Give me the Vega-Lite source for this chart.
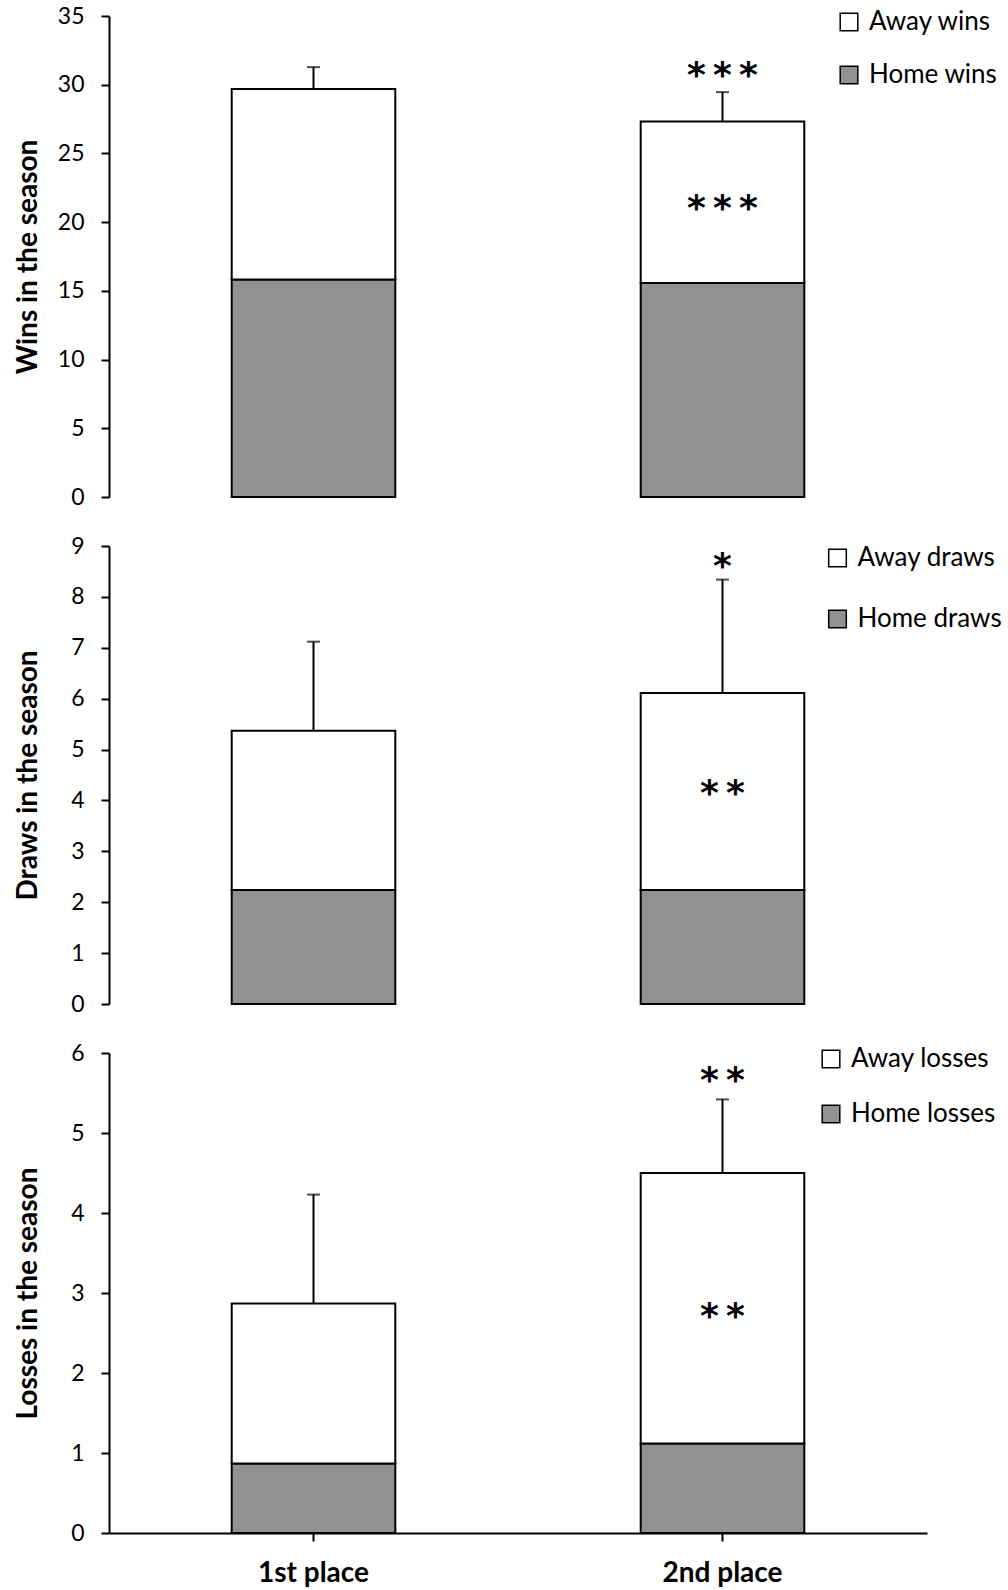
{
  "$schema": "https://vega.github.io/schema/vega-lite/v6.json",
  "background": "white",
  "padding": {"left": 14, "top": 5, "right": 5, "bottom": 5},
  "bounds": "flush",
  "spacing": 49,
  "datasets": {
    "winsBars": [
      {"place": "1st place", "part": "Home wins", "value": 15.82},
      {"place": "1st place", "part": "Away wins", "value": 13.86},
      {"place": "2nd place", "part": "Home wins", "value": 15.58},
      {"place": "2nd place", "part": "Away wins", "value": 11.75}
    ],
    "winsErr": [
      {"place": "1st place", "total": 29.68, "upper": 31.28},
      {"place": "2nd place", "total": 27.33, "upper": 29.46}
    ],
    "winsStars": [
      {"place": "2nd place", "value": 31.1, "label": "*\u2009*\u2009*"},
      {"place": "2nd place", "value": 21.4, "label": "*\u2009*\u2009*"}
    ],
    "drawsBars": [
      {"place": "1st place", "part": "Home draws", "value": 2.24},
      {"place": "1st place", "part": "Away draws", "value": 3.13},
      {"place": "2nd place", "part": "Home draws", "value": 2.24},
      {"place": "2nd place", "part": "Away draws", "value": 3.87}
    ],
    "drawsErr": [
      {"place": "1st place", "total": 5.37, "upper": 7.12},
      {"place": "2nd place", "total": 6.11, "upper": 8.34}
    ],
    "drawsStars": [
      {"place": "2nd place", "value": 8.7, "label": "*"},
      {"place": "2nd place", "value": 4.24, "label": "*\u2009*"}
    ],
    "lossesBars": [
      {"place": "1st place", "part": "Home losses", "value": 0.87},
      {"place": "1st place", "part": "Away losses", "value": 2.0},
      {"place": "2nd place", "part": "Home losses", "value": 1.12},
      {"place": "2nd place", "part": "Away losses", "value": 3.38}
    ],
    "lossesErr": [
      {"place": "1st place", "total": 2.87, "upper": 4.23},
      {"place": "2nd place", "total": 4.5, "upper": 5.42}
    ],
    "lossesStars": [
      {"place": "2nd place", "value": 5.73, "label": "*\u2009*"},
      {"place": "2nd place", "value": 2.78, "label": "*\u2009*"}
    ]
  },
  "config": {
    "view": {"stroke": null},
    "font": "Lato",
    "axis": {"domainColor": "black", "domainWidth": 2, "tickColor": "black", "tickWidth": 2, "labelColor": "black", "titleColor": "black", "grid": false, "labelFont": "Lato", "titleFont": "Lato"},
    "axisY": {"tickSize": 8, "labelFontSize": 23, "labelPadding": 17, "format": "d", "titleFontSize": 28, "titleFontWeight": "bold", "titleAngle": 270, "titleBaseline": "alphabetic", "titleAlign": "center", "titleX": -73},
    "axisX": {"tickSize": 8, "labelFontSize": 28, "labelFontWeight": "bold", "labelPadding": 18, "labelAngle": 0},
    "legend": {"orient": "none", "labelFont": "Lato", "labelFontSize": 26, "labelColor": "black", "symbolType": "square", "symbolSize": 310, "symbolStrokeColor": "black", "symbolStrokeWidth": 1.5, "labelOffset": 7, "padding": 0},
    "text": {"font": "DejaVu Sans", "fontSize": 36, "fontWeight": "bold", "color": "black"}
  },
  "resolve": {"scale": {"x": "independent", "y": "independent", "color": "independent"}, "legend": {"color": "independent"}},
  "vconcat": [
    {
      "width": 818, "height": 481,
      "layer": [
        {
          "data": {"name": "winsBars"},
          "mark": {"type": "bar", "stroke": "black", "strokeWidth": 2},
          "encoding": {
            "x": {"field": "place", "type": "nominal", "scale": {"paddingInner": 0.6, "paddingOuter": 0.3}, "axis": null},
            "y": {"field": "value", "type": "quantitative", "stack": "zero", "scale": {"domain": [0, 35]}, "axis": {"title": "Wins in the season", "values": [0, 5, 10, 15, 20, 25, 30, 35], "titleY": 240.5}},
            "color": {"field": "part", "type": "nominal", "scale": {"domain": ["Away wins", "Home wins"], "range": ["white", "#919191"]}, "legend": {"title": null, "legendX": 727, "legendY": -7, "rowPadding": 27}},
            "order": {"field": "part", "sort": "descending"}
          }
        },
        {
          "data": {"name": "winsErr"},
          "mark": {"type": "rule", "color": "black", "strokeWidth": 2},
          "encoding": {"x": {"field": "place", "type": "nominal"}, "y": {"field": "total", "type": "quantitative"}, "y2": {"field": "upper"}}
        },
        {
          "data": {"name": "winsErr"},
          "mark": {"type": "tick", "color": "black", "size": 13, "thickness": 2},
          "encoding": {"x": {"field": "place", "type": "nominal"}, "y": {"field": "upper", "type": "quantitative"}}
        },
        {
          "data": {"name": "winsStars"},
          "mark": {"type": "text", "baseline": "middle", "dy": 6},
          "encoding": {"x": {"field": "place", "type": "nominal"}, "y": {"field": "value", "type": "quantitative"}, "text": {"field": "label"}}
        }
      ]
    },
    {
      "width": 818, "height": 458,
      "layer": [
        {
          "data": {"name": "drawsBars"},
          "mark": {"type": "bar", "stroke": "black", "strokeWidth": 2},
          "encoding": {
            "x": {"field": "place", "type": "nominal", "scale": {"paddingInner": 0.6, "paddingOuter": 0.3}, "axis": null},
            "y": {"field": "value", "type": "quantitative", "stack": "zero", "scale": {"domain": [0, 9]}, "axis": {"title": "Draws in the season", "values": [0, 1, 2, 3, 4, 5, 6, 7, 8, 9], "titleY": 229}},
            "color": {"field": "part", "type": "nominal", "scale": {"domain": ["Away draws", "Home draws"], "range": ["white", "#919191"]}, "legend": {"title": null, "legendX": 715.5, "legendY": -1, "rowPadding": 35}},
            "order": {"field": "part", "sort": "descending"}
          }
        },
        {
          "data": {"name": "drawsErr"},
          "mark": {"type": "rule", "color": "black", "strokeWidth": 2},
          "encoding": {"x": {"field": "place", "type": "nominal"}, "y": {"field": "total", "type": "quantitative"}, "y2": {"field": "upper"}}
        },
        {
          "data": {"name": "drawsErr"},
          "mark": {"type": "tick", "color": "black", "size": 13, "thickness": 2},
          "encoding": {"x": {"field": "place", "type": "nominal"}, "y": {"field": "upper", "type": "quantitative"}}
        },
        {
          "data": {"name": "drawsStars"},
          "mark": {"type": "text", "baseline": "middle", "dy": 6},
          "encoding": {"x": {"field": "place", "type": "nominal"}, "y": {"field": "value", "type": "quantitative"}, "text": {"field": "label"}}
        }
      ]
    },
    {
      "width": 818, "height": 480,
      "layer": [
        {
          "data": {"name": "lossesBars"},
          "mark": {"type": "bar", "stroke": "black", "strokeWidth": 2},
          "encoding": {
            "x": {"field": "place", "type": "nominal", "scale": {"paddingInner": 0.6, "paddingOuter": 0.3}, "axis": {"title": null}},
            "y": {"field": "value", "type": "quantitative", "stack": "zero", "scale": {"domain": [0, 6]}, "axis": {"title": "Losses in the season", "values": [0, 1, 2, 3, 4, 5, 6], "titleY": 240}},
            "color": {"field": "part", "type": "nominal", "scale": {"domain": ["Away losses", "Home losses"], "range": ["white", "#919191"]}, "legend": {"title": null, "legendX": 709, "legendY": -7, "rowPadding": 29}},
            "order": {"field": "part", "sort": "descending"}
          }
        },
        {
          "data": {"name": "lossesErr"},
          "mark": {"type": "rule", "color": "black", "strokeWidth": 2},
          "encoding": {"x": {"field": "place", "type": "nominal"}, "y": {"field": "total", "type": "quantitative"}, "y2": {"field": "upper"}}
        },
        {
          "data": {"name": "lossesErr"},
          "mark": {"type": "tick", "color": "black", "size": 13, "thickness": 2},
          "encoding": {"x": {"field": "place", "type": "nominal"}, "y": {"field": "upper", "type": "quantitative"}}
        },
        {
          "data": {"name": "lossesStars"},
          "mark": {"type": "text", "baseline": "middle", "dy": 6},
          "encoding": {"x": {"field": "place", "type": "nominal"}, "y": {"field": "value", "type": "quantitative"}, "text": {"field": "label"}}
        }
      ]
    }
  ]
}
